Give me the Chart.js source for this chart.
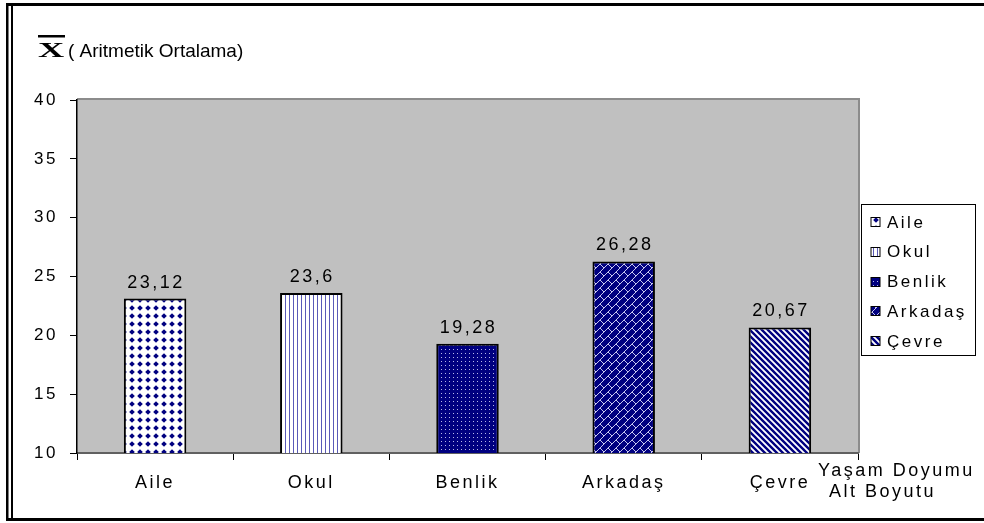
<!DOCTYPE html>
<html lang="tr">
<head>
<meta charset="utf-8">
<title>Yaşam Doyumu Alt Boyutu</title>
<script src="https://cdn.jsdelivr.net/npm/chart.js"></script>
<style>
    html, body { margin: 0; padding: 0; background: #fff; }
    #kutu { position: relative; width: 984px; height: 523px; }
</style>
</head>
<body>
<div id="kutu"><canvas id="grafik" width="984" height="523"></canvas></div>
<script>
// veriler
var kategoriler = ['Aile', 'Okul', 'Benlik', 'Arkadaş', 'Çevre'];
var ortalamalar = [23.12, 23.6, 19.28, 26.28, 20.67];
var yTicks = [10, 15, 20, 25, 30, 35, 40];
var baslik = '( Aritmetik Ortalama)';
var eksenBaslik = ['Yaşam Doyumu', 'Alt Boyutu'];

var LACIVERT = '#000080';
var YAZI = '"Liberation Sans", Arial, sans-serif';

function desen(w, h, ciz) {
    var c = document.createElement('canvas');
    c.width = w;
    c.height = h;
    var g = c.getContext('2d');
    ciz(g, w, h);
    return document.getElementById('grafik').getContext('2d').createPattern(c, 'repeat');
}

var desenler = [
    // Aile: beyaz zemin, lacivert noktalar
    desen(8, 8, function(g) {
        g.fillStyle = '#fff';
        g.fillRect(0, 0, 8, 8);
        g.fillStyle = LACIVERT;
        g.beginPath();
        g.moveTo(4, 1.2);
        g.lineTo(6.8, 4);
        g.lineTo(4, 6.8);
        g.lineTo(1.2, 4);
        g.closePath();
        g.fill();
    }),
    // Okul: dikey cizgiler
    desen(4, 4, function(g) {
        g.fillStyle = '#fff';
        g.fillRect(0, 0, 4, 4);
        g.fillStyle = '#5a5ab8';
        g.fillRect(1, 0, 1, 4);
    }),
    // Benlik: lacivert zemin, beyaz noktacıklar
    desen(4, 4, function(g) {
        g.fillStyle = LACIVERT;
        g.fillRect(0, 0, 4, 4);
        g.fillStyle = '#b8b8e8';
        g.fillRect(1, 1, 1, 1);
    }),
    // Arkadaş: lacivert zemin, örgü
    desen(8, 8, function(g) {
        g.fillStyle = LACIVERT;
        g.fillRect(0, 0, 8, 8);
        g.strokeStyle = '#c8c8f0';
        g.lineWidth = 1;
        g.beginPath();
        g.moveTo(0, 8);
        g.lineTo(8, 0);
        g.moveTo(0, 0);
        g.lineTo(4, 4);
        g.stroke();
    }),
    // Çevre: çapraz çizgiler
    desen(6, 6, function(g) {
        g.fillStyle = '#fff';
        g.fillRect(0, 0, 6, 6);
        g.strokeStyle = LACIVERT;
        g.lineWidth = 2.4;
        g.beginPath();
        [-6, 0, 6].forEach(function(d) {
            g.moveTo(d - 1, -1);
            g.lineTo(d + 7, 7);
        });
        g.stroke();
    })
];

var veriSetleri = kategoriler.map(function(ad, i) {
    return {
        label: ad,
        data: kategoriler.map(function(_, j) { return j === i ? ortalamalar[i] : null; }),
        backgroundColor: desenler[i],
        borderColor: '#000',
        borderWidth: 2,
        borderSkipped: false,
        skipNull: true,
        categoryPercentage: 0.8,
        barPercentage: 0.5
    };
});

var cizimler = {
    id: 'cizimler',
    beforeUpdate: function(chart) {
        chart.ctx.letterSpacing = '2.5px';
    },
    beforeDraw: function(chart) {
        var ctx = chart.ctx;
        var a = chart.chartArea;
        ctx.letterSpacing = '2.5px';
        ctx.save();
        ctx.fillStyle = '#fff';
        ctx.fillRect(0, 0, chart.width, chart.height);
        ctx.fillStyle = '#c0c0c0';
        ctx.fillRect(a.left, a.top, a.right - a.left, a.bottom - a.top);
        ctx.fillStyle = '#8c8c8c';
        ctx.fillRect(a.left, a.top - 2, a.right - a.left + 2, 2);
        ctx.fillRect(a.right, a.top - 2, 2, a.bottom - a.top + 2);
        ctx.restore();
    },
    afterDatasetsDraw: function(chart) {
        var ctx = chart.ctx;
        ctx.save();
        ctx.font = '18px ' + YAZI;
        ctx.fillStyle = '#000';
        ctx.textAlign = 'center';
        ctx.textBaseline = 'alphabetic';
        chart.data.datasets.forEach(function(ds, i) {
            chart.getDatasetMeta(i).data.forEach(function(bar, j) {
                var v = ds.data[j];
                if (v === null) return;
                ctx.fillText(String(v).replace('.', ','), bar.x + 1, bar.y - 11);
            });
        });
        ctx.restore();
    },
    afterDraw: function(chart) {
        var ctx = chart.ctx;
        var a = chart.chartArea;
        ctx.save();

        // başlık: X ortalama işareti
        ctx.letterSpacing = '0px';
        ctx.fillStyle = '#000';
        ctx.save();
        ctx.translate(38, 57);
        ctx.scale(1.65, 1);
        ctx.font = 'bold 22px "Liberation Serif", serif';
        ctx.fillText('X', 0, 0);
        ctx.restore();
        ctx.fillRect(38, 35, 27, 2.5);
        ctx.font = '19px ' + YAZI;
        ctx.textBaseline = 'alphabetic';
        ctx.fillText(baslik, 68, 57);

        // x ekseni başlığı
        ctx.letterSpacing = '2.5px';
        ctx.font = '18px ' + YAZI;
        ctx.textBaseline = 'middle';
        ctx.fillText(eksenBaslik[0], 818, 471);
        ctx.fillText(eksenBaslik[1], 829, 492);

        // lejant
        var lx = a.right + 3.5;
        var ly = 204.5;
        ctx.fillStyle = '#fff';
        ctx.fillRect(lx, ly, 114, 151);
        ctx.strokeStyle = '#000';
        ctx.lineWidth = 1;
        ctx.strokeRect(lx, ly, 114, 151);
        ctx.font = '17px ' + YAZI;
        ctx.textAlign = 'left';
        chart.data.datasets.forEach(function(ds, i) {
            var yy = 222 + i * 29.8;
            ctx.fillStyle = ds.backgroundColor;
            ctx.fillRect(871, Math.round(yy) - 4.5, 9, 9);
            ctx.strokeRect(871, Math.round(yy) - 4.5, 9, 9);
            ctx.fillStyle = '#000';
            ctx.fillText(ds.label, 887, yy + 1);
        });

        // çerçeve
        ctx.fillStyle = '#000';
        ctx.fillRect(6, 3, 978, 3);
        ctx.fillRect(6, 3, 2.5, 518);
        ctx.fillRect(11, 6, 2, 513);
        ctx.fillRect(6, 518, 978, 3);
        ctx.restore();
    }
};

new Chart(document.getElementById('grafik'), {
    type: 'bar',
    data: {
        labels: kategoriler,
        datasets: veriSetleri
    },
    options: {
        responsive: false,
        animation: false,
        layout: {
            padding: { top: 100, right: 126, bottom: 0, left: 0 }
        },
        plugins: {
            legend: { display: false },
            tooltip: { enabled: false },
            title: { display: false }
        },
        scales: {
            x: {
                afterFit: function(s) { s.height = 70; },
                grid: {
                    offset: true,
                    drawOnChartArea: false,
                    drawTicks: true,
                    tickLength: 7,
                    tickColor: '#000',
                    tickWidth: 1
                },
                border: { color: '#606060', width: 2 },
                ticks: {
                    color: '#000',
                    font: { family: YAZI, size: 18 },
                    padding: 12,
                    maxRotation: 0
                }
            },
            y: {
                min: yTicks[0],
                max: yTicks[yTicks.length - 1],
                afterFit: function(s) { s.width = 77; },
                grid: {
                    drawOnChartArea: false,
                    drawTicks: true,
                    tickLength: 7,
                    tickColor: '#000',
                    tickWidth: 1
                },
                border: { color: '#000', width: 1.5 },
                ticks: {
                    stepSize: yTicks[1] - yTicks[0],
                    color: '#000',
                    font: { family: YAZI, size: 17 },
                    padding: 12
                }
            }
        }
    },
    plugins: [cizimler]
});
</script>
</body>
</html>
